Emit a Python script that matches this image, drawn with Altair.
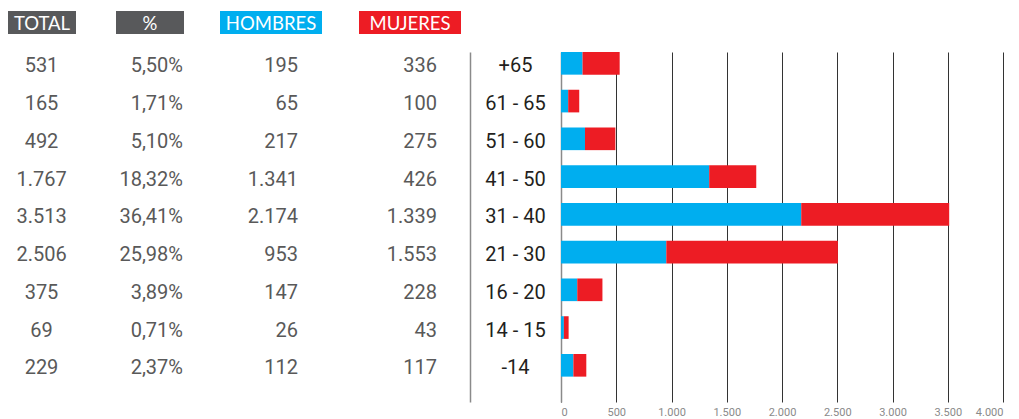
import altair as alt
import pandas as pd

ages = ["+65", "61 - 65", "51 - 60", "41 - 50", "31 - 40", "21 - 30", "16 - 20", "14 - 15", "-14"]
total = [531, 165, 492, 1767, 3513, 2506, 375, 69, 229]
pct = [5.50, 1.71, 5.10, 18.32, 36.41, 25.98, 3.89, 0.71, 2.37]
hombres = [195, 65, 217, 1341, 2174, 953, 147, 26, 112]
mujeres = [336, 100, 275, 426, 1339, 1553, 228, 43, 117]
headers = ["TOTAL", "%", "HOMBRES", "MUJERES"]
x_ticks = [0, 500, 1000, 1500, 2000, 2500, 3000, 3500, 4000]

GRAY = "#58595B"
CYAN = "#00AEEF"
RED = "#ED1C24"
header_fill = [GRAY, GRAY, CYAN, RED]
# layout of the header boxes (left, right) in pixels
header_box = [(0, 68), (108, 176), (212, 314), (351, 453)]
# layout of the table columns: (anchor x, align)
col_layout = [(33.5, "center"), (175, "right"), (290, "right"), (429, "right")]

table = pd.DataFrame({"age": ages, "total": total, "pct": pct,
                      "hombres": hombres, "mujeres": mujeres})
bars = pd.DataFrame(
    [{"age": a, "sex": "HOMBRES", "value": h} for a, h in zip(ages, hombres)]
    + [{"age": a, "sex": "MUJERES", "value": m} for a, m in zip(ages, mujeres)]
)

H = 350
NOVIEW = alt.ViewBackground(stroke="transparent", strokeWidth=0)
yscale = alt.Scale(type="band", domain=ages, paddingInner=0.4, paddingOuter=0.336, align=0)

# ---------- header row ----------
hlayers = []
for name, fill, (x0, x1) in zip(headers, header_fill, header_box):
    hd = alt.Chart(pd.DataFrame({"h": [name]}))
    hlayers.append(hd.mark_rect(color=fill).encode(
        x=alt.value(x0), x2=alt.value(x1), y=alt.value(0), y2=alt.value(23)))
    hlayers.append(hd.mark_text(font="Lato", fontSize=18.5, color="white", baseline="middle",
                                align="center", dy=1).encode(
        x=alt.value((x0 + x1) / 2), y=alt.value(11.5), text="h:N"))
header = alt.layer(*hlayers).properties(width=462, height=23, view=NOVIEW)

# ---------- table ----------
Yt = alt.Y("age:N", sort=ages, scale=yscale, title=None,
           axis=alt.Axis(orient="right", labels=False, ticks=False, domain=True,
                         domainColor="#8a8a8a", domainWidth=1.5, grid=False))

exprs = ["datum.total", "datum.pct / 100", "datum.hombres", "datum.mujeres"]
fmts = [",.0f", ".2%", ",.0f", ",.0f"]
tlayers = []
for expr, fmt, (xa, align) in zip(exprs, fmts, col_layout):
    tlayers.append(
        alt.Chart(table)
        .transform_calculate(v=expr)
        .mark_text(align=align, baseline="middle", dy=3, font="Roboto", fontSize=20, color="#595959")
        .encode(x=alt.value(xa), y=Yt, text=alt.Text("v:Q", format=fmt)))
left = alt.layer(*tlayers).properties(width=462, height=H, view=NOVIEW)

# ---------- bars ----------
right = (alt.Chart(bars)
         .transform_calculate(ord="datum.sex == 'HOMBRES' ? 0 : 1")
         .mark_bar()
         .encode(
             x=alt.X("value:Q", stack="zero", title=None,
                     scale=alt.Scale(domain=[0, 4000], nice=False),
                     axis=alt.Axis(values=x_ticks, format=",.0f", grid=True, gridColor="#333333",
                                   gridWidth=1, domain=False, ticks=False, labelColor="#8a8a8a",
                                   labelFontSize=11, labelFont="Roboto", labelPadding=4)),
             y=alt.Y("age:N", sort=ages, scale=yscale, title=None,
                     axis=alt.Axis(labelAlign="center", labelPadding=46, ticks=False, tickSize=0,
                                   labelFontSize=20, labelFont="Roboto", labelColor="#231F20",
                                   labelBaseline="middle", labelOffset=3,
                                   domain=True, domainColor="#8a8a8a", domainWidth=1.5, grid=False)),
             color=alt.Color("sex:N", scale=alt.Scale(domain=["HOMBRES", "MUJERES"], range=[CYAN, RED]),
                             legend=None),
             order=alt.Order("ord:Q"),
         )
         .properties(width=442, height=H, view=NOVIEW))

chart = (alt.vconcat(
    header,
    alt.hconcat(left, right, spacing=91, bounds="flush"),
    spacing=18, bounds="flush")
    .properties(padding={"top": 3, "left": 0, "right": 5, "bottom": 5})
    .configure_view(stroke="transparent", strokeWidth=0)
    .configure(locale={"number": {"decimal": ",", "thousands": ".", "grouping": [3],
                                  "currency": ["", " €"]}}))

chart.save("out.html", embed_options={"renderer": "svg", "actions": False})
